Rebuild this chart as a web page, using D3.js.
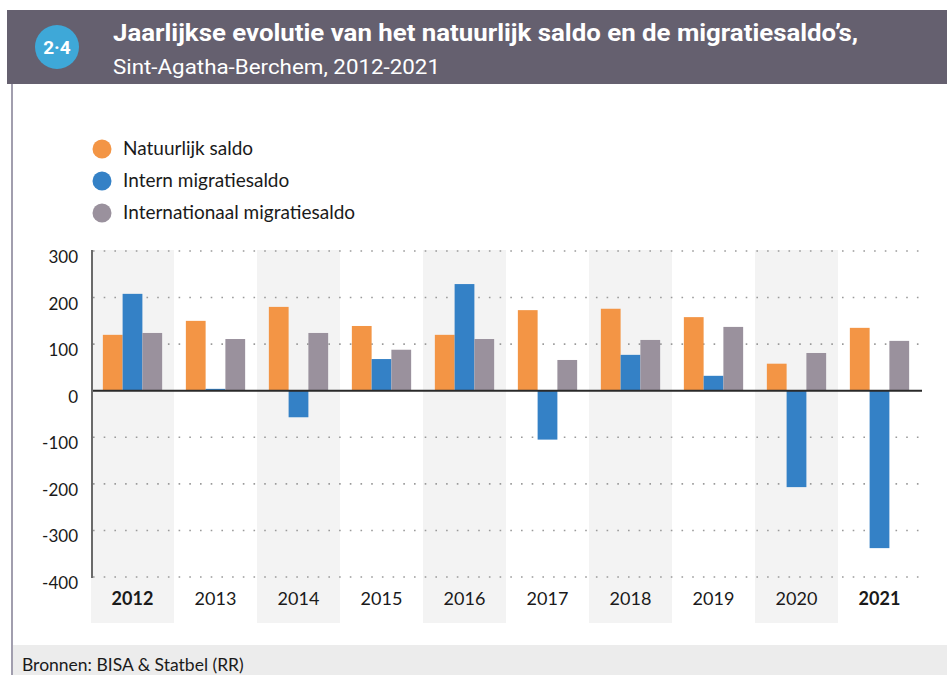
<!DOCTYPE html>
<html>
<head>
<meta charset="utf-8">
<script src="https://cdn.jsdelivr.net/npm/d3@7"></script>
<style>
  body { margin: 0; background: #fff; }
  svg { display: block; }
</style>
</head>
<body>
<div id="chart"></div>
<script>
// data
const years = ['2012', '2013', '2014', '2015', '2016', '2017', '2018', '2019', '2020', '2021'];
const natuurlijk = [120, 150, 180, 139, 120, 173, 176, 158, 58, 135];
const intern = [208, 4, -57, 68, 229, -105, 77, 32, -207, -338];
const internationaal = [124, 111, 124, 88, 111, 66, 109, 137, 81, 107];
const seriesNames = ['Natuurlijk saldo', 'Intern migratiesaldo', 'Internationaal migratiesaldo'];
const yTicks = [300, 200, 100, 0, -100, -200, -300, -400];
const boldYears = ['2012', '2021'];

const colors = ['#f39545', '#3481c6', '#9a919d'];
const font = 'Lato, "Open Sans", sans-serif';

const W = 947, H = 675;
const svg = d3.select('#chart').append('svg')
  .attr('width', W)
  .attr('height', H);

// frame + header
svg.append('rect')
  .attr('x', 7).attr('y', 10).attr('width', W - 7).attr('height', 74)
  .attr('fill', '#65606f');
svg.append('line')
  .attr('x1', 12).attr('x2', 12).attr('y1', 84).attr('y2', H)
  .attr('stroke', '#a19eae').attr('stroke-width', 2);
svg.append('circle')
  .attr('cx', 57).attr('cy', 47).attr('r', 22)
  .attr('fill', '#3ea8d8');
svg.append('text')
  .attr('x', 57).attr('y', 54)
  .attr('text-anchor', 'middle')
  .attr('fill', '#fff')
  .style('font', 'bold 19px Roboto, sans-serif')
  .text('2·4');
svg.append('text')
  .attr('x', 113).attr('y', 41)
  .attr('fill', '#fff')
  .attr('textLength', 745).attr('lengthAdjust', 'spacingAndGlyphs')
  .style('font', 'bold 24px Roboto, sans-serif')
  .text('Jaarlijkse evolutie van het natuurlijk saldo en de migratiesaldo’s,');
svg.append('text')
  .attr('x', 113).attr('y', 74)
  .attr('fill', '#fff')
  .attr('textLength', 327).attr('lengthAdjust', 'spacingAndGlyphs')
  .style('font', '21px Roboto, sans-serif')
  .text('Sint-Agatha-Berchem, 2012-2021');

// footer
svg.append('rect')
  .attr('x', 13).attr('y', 645).attr('width', W - 13).attr('height', 30)
  .attr('fill', '#ececec');
svg.append('text')
  .attr('x', 22).attr('y', 671)
  .attr('fill', '#1a1a1a')
  .style('font', `17.5px ${font}`)
  .text('Bronnen: BISA & Statbel (RR)');

// legend
const legend = svg.append('g');
seriesNames.forEach((name, i) => {
  const cy = 149 + i * 32;
  legend.append('circle')
    .attr('cx', 102).attr('cy', cy).attr('r', 9.5)
    .attr('fill', colors[i]);
  legend.append('text')
    .attr('x', 123).attr('y', cy + 6)
    .attr('fill', '#1a1a1a')
    .style('font', `19px ${font}`)
    .text(name);
});

// scales
const x0 = d3.scaleBand().domain(years).range([91, 921]);
const x1 = d3.scaleBand().domain(d3.range(3))
  .range([0, x0.bandwidth()]).paddingOuter(0.6);
const y = d3.scaleLinear().domain([-400, 300]).range([577, 251]);

// alternating column bands
svg.append('g').selectAll('rect')
  .data(years.filter((d, i) => i % 2 === 0))
  .join('rect')
  .attr('x', d => x0(d))
  .attr('y', 250)
  .attr('width', x0.bandwidth())
  .attr('height', 373)
  .attr('fill', '#f3f3f3');

// dotted gridlines
svg.append('g').selectAll('line')
  .data(yTicks.filter(d => d !== 0))
  .join('line')
  .attr('x1', 93).attr('x2', 921)
  .attr('y1', d => y(d)).attr('y2', d => y(d))
  .attr('stroke', '#9a9a9a')
  .attr('stroke-width', 1.6)
  .attr('stroke-dasharray', '1.6,9.1');

// bars
const series = [natuurlijk, intern, internationaal];
series.forEach((vals, s) => {
  svg.append('g').selectAll('rect')
    .data(vals)
    .join('rect')
    .attr('x', (d, i) => x0(years[i]) + x1(s))
    .attr('width', x1.bandwidth())
    .attr('y', d => y(Math.max(0, d)))
    .attr('height', d => Math.abs(y(d) - y(0)))
    .attr('fill', colors[s]);
});

// zero line and y axis line
svg.append('line')
  .attr('x1', 91).attr('x2', 922)
  .attr('y1', y(0)).attr('y2', y(0))
  .attr('stroke', '#2a2a2a').attr('stroke-width', 2);
svg.append('line')
  .attr('x1', 92).attr('x2', 92)
  .attr('y1', 250).attr('y2', 578)
  .attr('stroke', '#6a6a6a').attr('stroke-width', 2);

// y labels
svg.append('g').selectAll('text')
  .data(yTicks)
  .join('text')
  .attr('x', 78)
  .attr('y', d => y(d) + 12)
  .attr('text-anchor', 'end')
  .attr('fill', '#1a1a1a')
  .style('font', `17px ${font}`)
  .text(d => d);

// x labels
svg.append('g').selectAll('text')
  .data(years)
  .join('text')
  .attr('x', d => x0(d) + x0.bandwidth() / 2)
  .attr('y', 605)
  .attr('text-anchor', 'middle')
  .attr('fill', '#1a1a1a')
  .style('font', d => `${boldYears.includes(d) ? 'bold ' : ''}18px ${font}`)
  .text(d => d);
</script>
</body>
</html>
